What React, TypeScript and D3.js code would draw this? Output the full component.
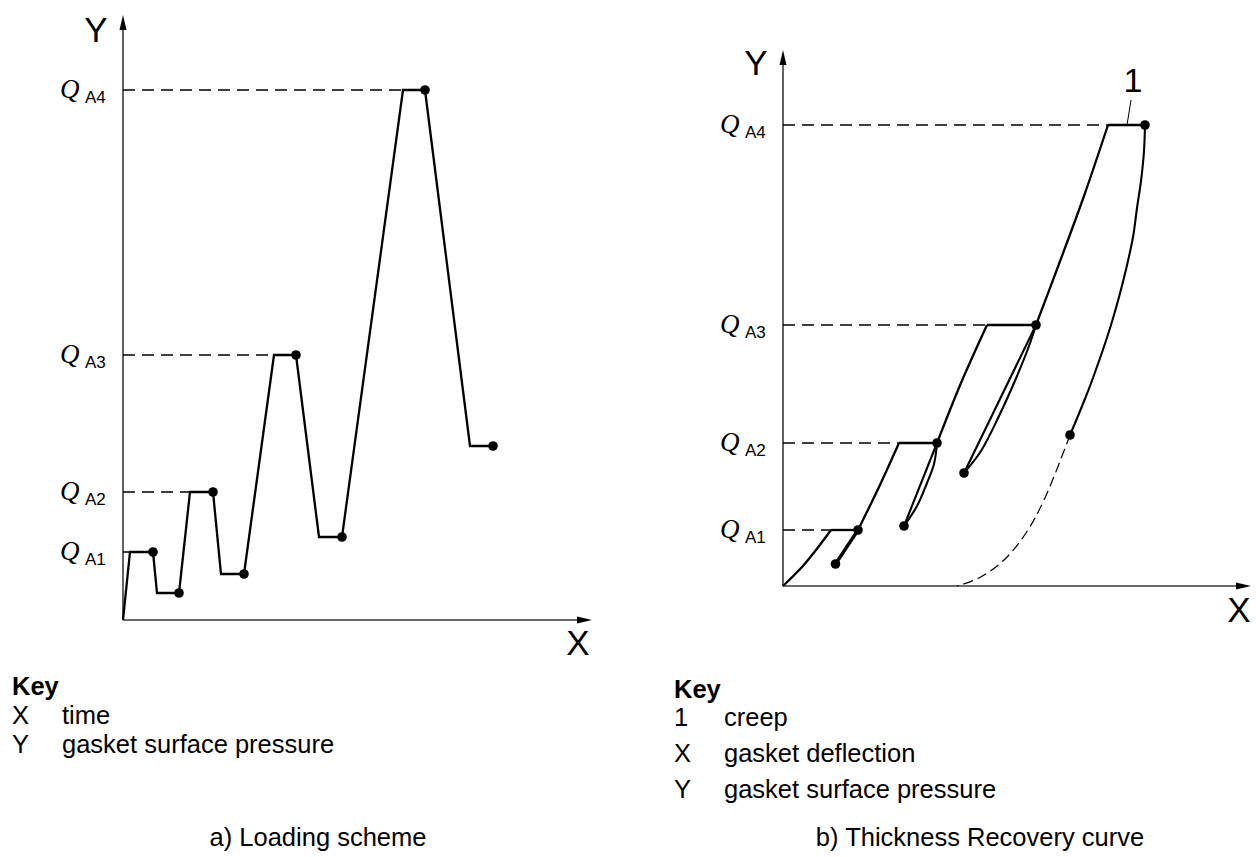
import * as d3 from "d3";

// a) Loading scheme: time vs gasket surface pressure (schematic units)
const loadTime = [0, 7, 30, 34, 56, 67, 90, 98, 121, 151, 173, 196, 219, 280, 302, 347, 370];
const loadPressure = [0, 68, 68, 27, 27, 128, 128, 46, 46, 265, 265, 83, 83, 530, 530, 174, 174];
const loadDotIdx = [2, 4, 6, 8, 10, 12, 14, 16];
const loadLevels = [68, 128, 265, 530];
const loadLevelStart = [7, 67, 151, 280];
const levelNames = ["A1", "A2", "A3", "A4"];

// b) Thickness recovery: deflection vs gasket surface pressure
const recLevels = [56, 143, 261, 461];
const recLevelStart = [48, 116, 204, 325];
const recPeakDefl = [75, 154, 253, 362];
const envelopeDefl = [[0, 19, 33, 48], [75, 96, 116], [154, 178, 204], [253, 276, 301, 325]];
const envelopePress = [[0, 19, 36, 56], [56, 99, 143], [143, 203, 261], [261, 322, 390, 461]];
const unloadDefl = [
  [75, 52.5],
  [154, 151, 144, 134, 121],
  [253, 246, 234, 216, 198, 181],
  [362, 361, 358, 354, 350.2, 343.6, 336.3, 328, 319.5, 313.9, 307, 301.5, 295, 287],
];
const unloadPress = [
  [56, 22],
  [143, 122, 103, 80, 60],
  [261, 240, 210, 170, 135, 113],
  [461, 435, 405, 378, 350, 319, 290, 261, 235, 219, 200, 186, 170, 151],
];
const reloadDefl = [[121, 154], [181, 253]];
const reloadPress = [[60, 143], [113, 261]];
const creepDefl = [287, 282.5, 261, 243, 221, 196, 174];
const creepPress = [151, 139, 86, 53, 26, 8, 0];

const keyLeft = [["X", "time"], ["Y", "gasket surface pressure"]];
const keyRight = [["1", "creep"], ["X", "gasket deflection"], ["Y", "gasket surface pressure"]];

const SANS = "'Liberation Sans', Arial, sans-serif";
const SERIF = "'Liberation Serif', 'Times New Roman', serif";
const AXIS = "#3a3a3a";

type Pt = [number, number];
const zip = (xs: number[], ys: number[]): Pt[] => xs.map((x, i) => [x, ys[i]]);

const Axes = ({ x, y, xMax, yMax }: { x: any; y: any; xMax: number; yMax: number }) => {
  const x0 = x(0), y0 = y(0), xe = x(xMax), ye = y(yMax);
  return (
    <g>
      <line x1={x0} y1={y0} x2={x0} y2={ye + 12} stroke={AXIS} strokeWidth={1.6} />
      <line x1={x0} y1={y0} x2={xe - 12} y2={y0} stroke={AXIS} strokeWidth={1.6} />
      <path d={`M${x0},${ye}L${x0 - 3.5},${ye + 15}L${x0 + 3.5},${ye + 15}Z`} fill="#000" />
      <path d={`M${xe},${y0}L${xe - 15},${y0 - 3.5}L${xe - 15},${y0 + 3.5}Z`} fill="#000" />
    </g>
  );
};

const QLabel = ({ xPos, yPos, name }: { xPos: number; yPos: number; name: string }) => (
  <g>
    <text x={xPos} y={yPos + 8} fontFamily={SERIF} fontStyle="italic" fontSize={27}>Q</text>
    <text x={xPos + 25} y={yPos + 13} fontFamily={SANS} fontSize={17}>{name}</text>
  </g>
);

const LoadingScheme = () => {
  const x = d3.scaleLinear().domain([0, 469]).range([123, 592]);
  const y = d3.scaleLinear().domain([0, 605]).range([620, 15]);
  const line = d3.line<Pt>().x((d) => x(d[0])).y((d) => y(d[1]));
  const pts = zip(loadTime, loadPressure);
  return (
    <g>
      <Axes x={x} y={y} xMax={469} yMax={605} />
      <text x={96} y={42} textAnchor="middle" fontFamily={SANS} fontSize={35}>Y</text>
      <text x={578} y={655} textAnchor="middle" fontFamily={SANS} fontSize={35}>X</text>
      {loadLevels.map((lv, i) => (
        <g key={i}>
          <line x1={x(0)} x2={x(loadLevelStart[i])} y1={y(lv)} y2={y(lv)} stroke="#000" strokeWidth={1.5} strokeDasharray="12 7" />
          <QLabel xPos={60} yPos={y(lv)} name={levelNames[i]} />
        </g>
      ))}
      <path d={line(pts) || ""} fill="none" stroke="#000" strokeWidth={2.3} strokeLinejoin="miter" />
      {loadDotIdx.map((k) => (
        <circle key={k} cx={x(loadTime[k])} cy={y(loadPressure[k])} r={4.8} fill="#000" />
      ))}
    </g>
  );
};

const RecoveryCurve = () => {
  const x = d3.scaleLinear().domain([0, 468]).range([783, 1251]);
  const y = d3.scaleLinear().domain([0, 536]).range([586, 50]);
  const curve = d3.line<Pt>().x((d) => x(d[0])).y((d) => y(d[1])).curve(d3.curveCatmullRom.alpha(0.5));
  return (
    <g>
      <Axes x={x} y={y} xMax={468} yMax={536} />
      <text x={756} y={75} textAnchor="middle" fontFamily={SANS} fontSize={35}>Y</text>
      <text x={1239} y={622} textAnchor="middle" fontFamily={SANS} fontSize={35}>X</text>
      {recLevels.map((lv, i) => (
        <g key={i}>
          <line x1={x(0)} x2={x(recLevelStart[i])} y1={y(lv)} y2={y(lv)} stroke="#000" strokeWidth={1.5} strokeDasharray="12 7" />
          <line x1={x(recLevelStart[i])} x2={x(recPeakDefl[i])} y1={y(lv)} y2={y(lv)} stroke="#000" strokeWidth={2.3} />
          <QLabel xPos={720} yPos={y(lv)} name={levelNames[i]} />
        </g>
      ))}
      {envelopeDefl.map((xs, i) => (
        <path key={"e" + i} d={curve(zip(xs, envelopePress[i])) || ""} fill="none" stroke="#000" strokeWidth={2.3} />
      ))}
      {unloadDefl.map((xs, i) => (
        <path key={"u" + i} d={curve(zip(xs, unloadPress[i])) || ""} fill="none" stroke="#000" strokeWidth={i === 0 ? 3.4 : 2.1} />
      ))}
      {reloadDefl.map((xs, i) => (
        <path key={"r" + i} d={curve(zip(xs, reloadPress[i])) || ""} fill="none" stroke="#000" strokeWidth={2.1} />
      ))}
      <path d={curve(zip(creepDefl, creepPress)) || ""} fill="none" stroke="#000" strokeWidth={1.2} strokeDasharray="10 5" />
      {recPeakDefl.map((d, i) => (
        <circle key={"p" + i} cx={x(d)} cy={y(recLevels[i])} r={4.8} fill="#000" />
      ))}
      {unloadDefl.map((xs, i) => (
        <circle key={"d" + i} cx={x(xs[xs.length - 1])} cy={y(unloadPress[i][unloadPress[i].length - 1])} r={4.8} fill="#000" />
      ))}
      <line x1={x(348)} y1={y(486)} x2={x(344)} y2={y(461)} stroke="#000" strokeWidth={1} />
      <text x={x(350)} y={y(494)} textAnchor="middle" fontFamily={SANS} fontSize={34}>1</text>
    </g>
  );
};

const KeyBlock = ({ x0, y0, rows, first, step }: { x0: number; y0: number; rows: string[][]; first: number; step: number }) => (
  <g fontFamily={SANS} fontSize={25.5}>
    <text x={x0} y={y0} fontWeight="bold">Key</text>
    {rows.map((r, i) => (
      <g key={i}>
        <text x={x0} y={y0 + first + i * step}>{r[0]}</text>
        <text x={x0 + 50} y={y0 + first + i * step}>{r[1]}</text>
      </g>
    ))}
  </g>
);

export default function App() {
  return (
    <svg width={1256} height={857} style={{ position: "absolute", left: 0, top: 0, background: "#fff" }}>
      <rect width={1256} height={857} fill="#fff" />
      <LoadingScheme />
      <RecoveryCurve />
      <KeyBlock x0={12} y0={695} rows={keyLeft} first={29} step={29} />
      <KeyBlock x0={674} y0={698} rows={keyRight} first={28} step={36} />
      <text x={318} y={846} textAnchor="middle" fontFamily={SANS} fontSize={25.5}>a) Loading scheme</text>
      <text x={980} y={846} textAnchor="middle" fontFamily={SANS} fontSize={25.5}>b) Thickness Recovery curve</text>
    </svg>
  );
}
